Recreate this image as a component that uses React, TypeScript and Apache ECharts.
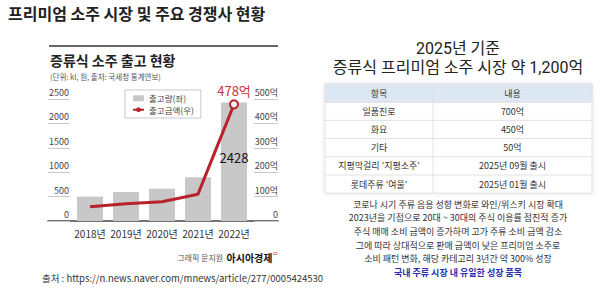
import React, { useEffect, useRef } from 'react';
import * as echarts from 'echarts';

// ---- data ----
const years = ['2018년', '2019년', '2020년', '2021년', '2022년'];
const shipmentVolume = [500, 594, 662, 895, 2428]; // 출고량 (kl)
const shipmentAmount = [58, 71, 79, 110, 478]; // 출고금액 (억)
const seriesNames = ['출고량(좌)', '출고금액(우)'];

const pageTitle = '프리미엄 소주 시장 및 주요 경쟁사 현황';
const chartTitle = '증류식 소주 출고 현황';
const chartSubtitle = '(단위: kl, 원, 출처: 국세청 통계연보)';
const creditLabel = '그래픽 문지원';
const creditBrand = '아시아경제';
const sourceText = '출처 : https://n.news.naver.com/mnews/article/277/0005424530';

const rightTitle1 = '2025년 기준';
const rightTitle2 = '증류식 프리미엄 소주 시장 약 1,200억';
const tableHeader = ['항목', '내용'];
const tableItems = ['일품진로', '화요', '기타', "지평막걸리 '지평소주'", "롯데주류 '여울'"];
const tableValues = ['700억', '450억', '50억', '2025년 09월 출시', '2025년 01월 출시'];
const bodyLines = [
  '코로나 시기 주류 음용 성향 변화로 와인/위스키 시장 확대',
  '2023년을 기점으로 20대 ~ 30대의 주식 이용률 점진적 증가',
  '주식 매매 소비 금액이 증가하며 고가 주류 소비 금액 감소',
  '그에 따라 상대적으로 판매 금액이 낮은 프리미엄 소주로',
  '소비 패턴 변화, 해당 카테고리 3년간 약 300% 성장',
];
const highlightLine = '국내 주류 시장 내 유일한 성장 품목';

const FONT = '"Noto Sans CJK KR", "Noto Sans", sans-serif';
const RFONT = 'Roboto, "Noto Sans CJK KR", sans-serif';
const RED = '#b8222b';

function buildGraphics() {
  const g: any[] = [];
  // left header texts
  g.push({ type: 'text', left: 8, top: 5, style: { text: pageTitle, font: `bold 16px ${FONT}`, fill: '#222' } });
  g.push({ type: 'line', shape: { x1: 49, y1: 46, x2: 278, y2: 46 }, style: { stroke: '#333', lineWidth: 1.5 } });
  g.push({ type: 'text', x: 50, y: 60, style: { text: chartTitle, font: `bold 14px ${FONT}`, fill: '#222', verticalAlign: 'middle' } });
  g.push({ type: 'text', x: 50, y: 76, style: { text: chartSubtitle, font: `7.5px ${FONT}`, fill: '#555', verticalAlign: 'middle' } });
  g.push({
    type: 'text', x: 278, y: 257,
    style: {
      text: `{a|${creditLabel}} {b|${creditBrand}}{c|ᄆ}`,
      align: 'right', verticalAlign: 'middle',
      rich: {
        a: { fontSize: 8, fill: '#555', fontFamily: FONT },
        b: { fontSize: 10, fontWeight: 'bold', fill: '#111', fontFamily: FONT },
        c: { fontSize: 6, fill: '#d33', fontFamily: FONT, verticalAlign: 'top', padding: [0, 0, 6, 0] },
      },
    },
  });
  g.push({ type: 'text', x: 42, y: 278, style: { text: sourceText, font: `9.5px ${FONT}`, fill: '#333', verticalAlign: 'middle' } });

  // right side titles
  g.push({ type: 'text', x: 458, y: 48, style: { text: rightTitle1, font: `16px ${RFONT}`, fill: '#222', align: 'center', verticalAlign: 'middle' } });
  g.push({ type: 'text', x: 458, y: 67, style: { text: rightTitle2, font: `16px ${RFONT}`, fill: '#222', align: 'center', verticalAlign: 'middle' } });

  // table
  const x0 = 325, x1 = 592, xm = 433, top = 84, rowH = 18.2;
  const rows = [tableHeader, ...tableItems.map((it, i) => [it, tableValues[i]])];
  const bottom = top + rows.length * rowH;
  g.push({ type: 'rect', shape: { x: x0, y: top, width: x1 - x0, height: bottom - top }, style: { fill: '#fff', stroke: '#e2e2e2', lineWidth: 1, shadowBlur: 4, shadowColor: 'rgba(0,0,0,0.10)' } });
  g.push({ type: 'rect', shape: { x: x0, y: top, width: x1 - x0, height: rowH }, style: { fill: '#dce8f4', stroke: '#e2e2e2', lineWidth: 1 } });
  for (let r = 1; r < rows.length; r++) {
    const y = top + r * rowH;
    g.push({ type: 'line', shape: { x1: x0, y1: y, x2: x1, y2: y }, style: { stroke: '#e2e2e2', lineWidth: 1 } });
  }
  g.push({ type: 'line', shape: { x1: xm, y1: top, x2: xm, y2: bottom }, style: { stroke: '#e2e2e2', lineWidth: 1 } });
  rows.forEach((row, r) => {
    const cy = top + r * rowH + rowH / 2;
    g.push({ type: 'text', x: (x0 + xm) / 2, y: cy, style: { text: row[0], font: `9px ${FONT}`, fill: '#333', align: 'center', verticalAlign: 'middle' } });
    g.push({ type: 'text', x: (xm + x1) / 2, y: cy, style: { text: row[1], font: `9px ${FONT}`, fill: '#333', align: 'center', verticalAlign: 'middle' } });
  });

  // body text
  const lineStep = 13.7;
  bodyLines.forEach((t, i) => {
    g.push({ type: 'text', x: 458, y: 204 + i * lineStep, style: { text: t, font: `9px ${FONT}`, fill: '#333', align: 'center', verticalAlign: 'middle' } });
  });
  g.push({ type: 'text', x: 458, y: 204 + bodyLines.length * lineStep, style: { text: highlightLine, font: `bold 9px ${FONT}`, fill: '#2b2fb0', align: 'center', verticalAlign: 'middle' } });
  return g;
}

export default function App() {
  const ref = useRef<HTMLDivElement>(null);
  useEffect(() => {
    const chart = echarts.init(ref.current!, null, { renderer: 'svg' });
    const last = years.length - 1;
    const option: any = {
      animation: false,
      backgroundColor: '#fff',
      textStyle: { fontFamily: FONT },
      legend: {
        orient: 'vertical',
        left: 125,
        top: 90,
        borderColor: '#bbb',
        borderWidth: 0.8,
        padding: [4, 7, 4, 7],
        itemGap: 3,
        itemWidth: 11,
        itemHeight: 6,
        textStyle: { fontSize: 8.5, color: '#444', fontFamily: FONT },
        data: seriesNames,
      },
      grid: [
        { left: 48, width: 230, top: 99, height: 122 },
        { left: 72, width: 180, top: 99, height: 122 },
      ],
      xAxis: [
        {
          gridIndex: 0, type: 'value', min: 0, max: 1,
          axisLine: { show: true, onZero: false, lineStyle: { color: '#444', width: 1.5 } },
          axisTick: { show: false }, axisLabel: { show: false }, splitLine: { show: false },
        },
        {
          gridIndex: 1, type: 'category', data: years,
          axisLine: { show: false }, axisTick: { show: false },
          axisLabel: { interval: 0, fontSize: 10, color: '#333', margin: 7, fontFamily: FONT },
        },
      ],
      yAxis: [
        {
          gridIndex: 0, type: 'value', min: 0, max: 2500, interval: 500, position: 'left',
          axisLine: { show: false },
          axisTick: { show: true, inside: true, length: 22, lineStyle: { color: '#c8c8c8' } },
          axisLabel: {
            inside: true, align: 'right', margin: 21, verticalAlign: 'bottom', padding: [0, 0, 2, 0], fontSize: 9, color: '#444', fontFamily: FONT,
            formatter: (v: number) => String(v),
          },
          splitLine: { show: false },
        },
        {
          gridIndex: 0, type: 'value', min: 0, max: 500, interval: 100, position: 'right',
          axisLine: { show: false },
          axisTick: { show: true, inside: true, length: 24, lineStyle: { color: '#c8c8c8' } },
          axisLabel: {
            inside: true, align: 'right', margin: 0, verticalAlign: 'bottom', padding: [0, 0, 2, 0], fontSize: 9, color: '#444', fontFamily: FONT,
            formatter: (v: number) => (v === 0 ? '0' : `${v}억`),
          },
          splitLine: { show: false },
        },
        { gridIndex: 1, type: 'value', min: 0, max: 2500, show: false },
        { gridIndex: 1, type: 'value', min: 0, max: 500, show: false },
      ],
      series: [
        {
          name: seriesNames[0],
          type: 'bar',
          xAxisIndex: 1,
          yAxisIndex: 2,
          barWidth: 26,
          itemStyle: { color: '#c8c8c8' },
          data: shipmentVolume.map((v, i) =>
            i === last
              ? { value: v, label: { show: true, position: ['50%', '46%'], align: 'center', verticalAlign: 'middle', fontSize: 13, color: '#111', fontFamily: FONT } }
              : v
          ),
        },
        {
          name: seriesNames[1],
          type: 'line',
          xAxisIndex: 1,
          yAxisIndex: 3,
          symbol: 'none',
          lineStyle: { color: RED, width: 3 },
          itemStyle: { color: RED },
          data: shipmentAmount.map((v, i) =>
            i === last
              ? {
                  value: v,
                  symbol: 'circle',
                  symbolSize: 8,
                  itemStyle: { color: '#fff', borderColor: RED, borderWidth: 2 },
                  label: { show: true, position: 'top', distance: 2, formatter: '{c}억', fontSize: 13, color: '#c8333a', fontFamily: FONT },
                }
              : v
          ),
        },
      ],
      graphic: buildGraphics(),
    };
    chart.setOption(option);
    return () => chart.dispose();
  }, []);
  return <div ref={ref} style={{ position: 'fixed', left: 0, top: 0, width: 600, height: 296, background: '#fff' }} />;
}
